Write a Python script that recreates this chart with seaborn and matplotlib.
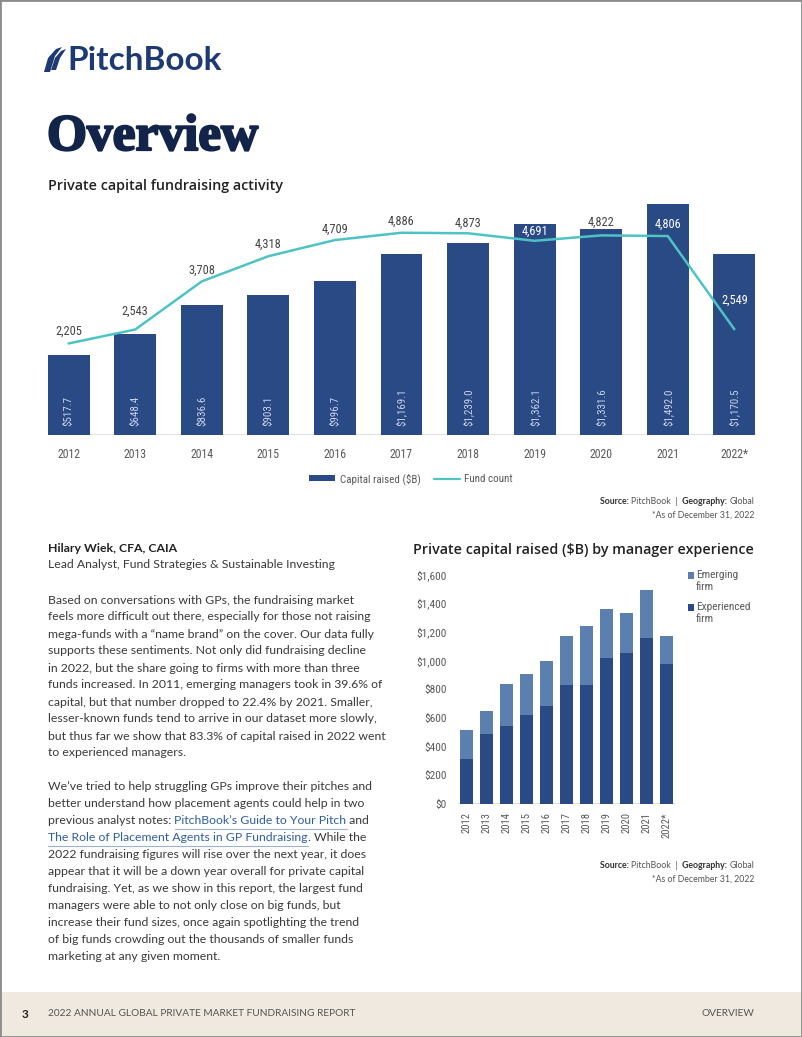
import numpy as np
import pandas as pd
import matplotlib
matplotlib.use("Agg")
import matplotlib.pyplot as plt
import seaborn as sns
from matplotlib import font_manager
from matplotlib.patches import Rectangle, Polygon, Patch
from matplotlib.lines import Line2D
import matplotlib.patheffects as pe

# ---------------- data ----------------
years = ["2012", "2013", "2014", "2015", "2016", "2017", "2018", "2019", "2020", "2021", "2022*"]
capital_raised = [517.7, 648.4, 836.6, 903.1, 996.7, 1169.1, 1239.0, 1362.1, 1331.6, 1492.0, 1170.5]
fund_count = [2205, 2543, 3708, 4318, 4709, 4886, 4873, 4691, 4822, 4806, 2549]
experienced_firm = [315, 487, 541, 620, 683, 828, 830, 1021, 1053, 1160, 975]
emerging_firm = [203, 161, 296, 283, 314, 341, 409, 341, 279, 332, 196]
y2_ticks = [0, 200, 400, 600, 800, 1000, 1200, 1400, 1600]

# style only: vertical lift (px) of each fund-count label above its point
count_label_lift_px = [12, 18, 11, 12, 11, 11, 10, 10, 13, 12, 29]

# ---------------- style ----------------
NAVY = "#2a4a85"
LIGHT = "#5b80b0"
TEAL = "#4ec3c3"
DARK = "#13244a"
TXT = "#3a3a3a"
GREY = "#5a5a5a"

sns.set_theme(style="white")
names = {f.name for f in font_manager.fontManager.ttflist}
COND = "DejaVu Sans"
for cand in ["Liberation Sans Narrow", "Roboto Condensed", "Open Sans Condensed",
             "Noto Sans Condensed", "DejaVu Sans Condensed", "Roboto"]:
    if cand in names:
        COND = cand
        break
BODY = "Lato" if "Lato" in names else "DejaVu Sans"
HEAD = "Open Sans" if "Open Sans" in names else "DejaVu Sans"
plt.rcParams["font.family"] = [COND, "DejaVu Sans"]

W, H = 802, 1037
fig = plt.figure(figsize=(W / 100, H / 100), dpi=100)
fig.patch.set_facecolor("white")


def fx(x):
    return x / W


def fy(y):
    return 1 - y / H


def rect_ax(l, t, r, b):
    return [fx(l), fy(b), (r - l) / W, (b - t) / H]


renderer = fig.canvas.get_renderer()


def text_width(t):
    return t.get_window_extent(renderer=renderer).width


def rich_line(x, y, segments, size, family, ha="left"):
    """segments: list of (text, color, weight, underline)"""
    if ha == "left":
        cx = x
        for s, c, w, u in segments:
            t = fig.text(fx(cx), fy(y), s, fontsize=size, color=c, fontweight=w,
                         family=family, va="center", ha="left")
            wd = text_width(t)
            if u:
                fig.add_artist(Line2D([fx(cx), fx(cx + wd)], [fy(y + 8), fy(y + 8)],
                                      color="#9fb3cf", lw=0.8, transform=fig.transFigure))
            cx += wd
    else:
        cx = x
        for s, c, w, u in reversed(segments):
            t = fig.text(fx(cx), fy(y), s, fontsize=size, color=c, fontweight=w,
                         family=family, va="center", ha="right")
            cx -= text_width(t)


# ---------------- page frame & header ----------------
fig.add_artist(Rectangle((0, 0), 1, 1, transform=fig.transFigure, fill=False,
                         edgecolor="#8c8c8c", lw=2))

logo_polys = [
    [(44, 72), (48, 58), (56, 49), (62, 47), (55, 56), (50, 72)],
    [(51, 70), (55, 58), (61, 51), (66, 49), (60, 58), (56, 70)],
]
for poly in logo_polys:
    fig.add_artist(Polygon([(fx(a), fy(b)) for a, b in poly], closed=True,
                           transform=fig.transFigure, facecolor="#1d3a72", edgecolor="none"))
fig.text(fx(67), fy(61), "PitchBook", fontsize=24, color="#1d3a72", family=BODY,
         fontweight="bold", va="center", ha="left")

ov = fig.text(fx(47), fy(138), "Overview", fontsize=37, color=DARK,
              family=["Liberation Serif", "DejaVu Serif"], fontweight="bold",
              va="center", ha="left")
ov.set_path_effects([pe.withStroke(linewidth=1.6, foreground=DARK)])

fig.text(fx(48), fy(186), "Private capital fundraising activity", fontsize=10.3,
         color="#222222", family=HEAD, fontweight="semibold", va="center", ha="left")

# ---------------- top chart ----------------
ax1 = fig.add_axes(rect_ax(47.7, 200, 755.3, 434.5))
df1 = pd.DataFrame({"year": years, "capital": capital_raised, "count": fund_count})
sns.barplot(data=df1, x="year", y="capital", color=NAVY, saturation=1, width=0.63,
            linewidth=0, ax=ax1)
Y1MAX = 1518
ax1.set_ylim(0, Y1MAX)
ax1.set_xlim(-0.315, 10.315)
for s in ax1.spines.values():
    s.set_visible(False)
ax1.axhline(0, color="#dcdcdc", lw=1.2, zorder=0.5)
ax1.set_yticks([])
ax1.set_xlabel("")
ax1.set_ylabel("")
ax1.tick_params(axis="x", length=0, pad=10, labelsize=8.5, labelcolor=GREY)

for i, v in enumerate(capital_raised):
    ax1.annotate(f"${v:,.1f}", xy=(i, 0), xytext=(0, 6.0), textcoords="offset points",
                 rotation=90, ha="center", va="bottom", color="#c9d1e8", fontsize=7.9)

ax2 = ax1.twinx()
Y2MAX = 5679
sns.lineplot(x=np.arange(len(years)), y=fund_count, ax=ax2, color=TEAL, lw=1.8)
ax2.set_ylim(0, Y2MAX)
ax2.set_xlim(-0.315, 10.315)
ax2.set_yticks([])
ax2.set_ylabel("")
for s in ax2.spines.values():
    s.set_visible(False)

AXH = 234.5
for i, (c, cap, lift) in enumerate(zip(fund_count, capital_raised, count_label_lift_px)):
    lab_px = c * AXH / Y2MAX + lift
    bar_px = cap * AXH / Y1MAX
    col = "white" if lab_px < bar_px else "#444444"
    ax2.annotate(f"{c:,}", xy=(i, c), xytext=(0, lift * 0.72), textcoords="offset points",
                 ha="center", va="center", color=col, fontsize=8.9)

handles = [Patch(facecolor=NAVY, edgecolor="none"), Line2D([0], [0], color=TEAL, lw=1.6)]
fig.legend(handles, ["Capital raised ($B)", "Fund count"], loc="center",
           bbox_to_anchor=(fx(411), fy(479)), ncol=2, frameon=False, fontsize=7.9,
           handlelength=2.4, handleheight=0.45, handletextpad=0.4, columnspacing=1.2,
           labelcolor=GREY)

rich_line(754, 502, [("Source: ", "#333333", "bold", False), ("PitchBook  |  ", "#555555", "normal", False),
                     ("Geography: ", "#333333", "bold", False), ("Global", "#555555", "normal", False)],
          6.3, BODY, ha="right")
rich_line(754, 515, [("*As of December 31, 2022", "#555555", "normal", False)], 6.3, BODY, ha="right")

# ---------------- body text ----------------
BSIZE = 8.8
fig.text(fx(48), fy(548), "Hilary Wiek, CFA, CAIA", fontsize=BSIZE, color="#222222",
         family=BODY, fontweight="bold", va="center")
fig.text(fx(48), fy(565), "Lead Analyst, Fund Strategies & Sustainable Investing", fontsize=BSIZE,
         color=TXT, family=BODY, va="center")

para1 = [
    "Based on conversations with GPs, the fundraising market",
    "feels more difficult out there, especially for those not raising",
    "mega-funds with a \u201cname brand\u201d on the cover. Our data fully",
    "supports these sentiments. Not only did fundraising decline",
    "in 2022, but the share going to firms with more than three",
    "funds increased. In 2011, emerging managers took in 39.6% of",
    "capital, but that number dropped to 22.4% by 2021. Smaller,",
    "lesser-known funds tend to arrive in our dataset more slowly,",
    "but thus far we show that 83.3% of capital raised in 2022 went",
    "to experienced managers.",
]
LINK = "#2f5f9e"
para2 = [
    [("We\u2019ve tried to help struggling GPs improve their pitches and", TXT, "normal", False)],
    [("better understand how placement agents could help in two", TXT, "normal", False)],
    [("previous analyst notes: ", TXT, "normal", False),
     ("PitchBook\u2019s Guide to Your Pitch", LINK, "normal", True), (" and", TXT, "normal", False)],
    [("The Role of Placement Agents in GP Fundraising", LINK, "normal", True),
     (". While the", TXT, "normal", False)],
    [("2022 fundraising figures will rise over the next year, it does", TXT, "normal", False)],
    [("appear that it will be a down year overall for private capital", TXT, "normal", False)],
    [("fundraising. Yet, as we show in this report, the largest fund", TXT, "normal", False)],
    [("managers were able to not only close on big funds, but", TXT, "normal", False)],
    [("increase their fund sizes, once again spotlighting the trend", TXT, "normal", False)],
    [("of big funds crowding out the thousands of smaller funds", TXT, "normal", False)],
    [("marketing at any given moment.", TXT, "normal", False)],
]
for k, line in enumerate(para1):
    fig.text(fx(48), fy(600 + k * 17.0), line, fontsize=BSIZE, color=TXT, family=BODY, va="center")
for k, segs in enumerate(para2):
    rich_line(48, 787 + k * 16.9, segs, BSIZE, BODY)

# ---------------- second chart ----------------
fig.text(fx(413), fy(550), "Private capital raised ($B) by manager experience", fontsize=10.3,
         color="#222222", family=HEAD, fontweight="semibold", va="center", ha="left")

ax3 = fig.add_axes(rect_ax(458, 574.5, 675, 804))
totals = np.array(experienced_firm) + np.array(emerging_firm)
sns.barplot(x=years, y=totals, color=LIGHT, saturation=1, width=0.65, linewidth=0, ax=ax3)
sns.barplot(x=years, y=experienced_firm, color=NAVY, saturation=1, width=0.65, linewidth=0, ax=ax3)
ax3.set_xlim(-0.4, 10.4)
ax3.set_ylim(0, 1600)
ax3.set_yticks(y2_ticks)
ax3.set_yticklabels([f"${t:,}" for t in y2_ticks])
for s in ax3.spines.values():
    s.set_visible(False)
ax3.axhline(0, color="#dcdcdc", lw=1.2, zorder=0.5)
ax3.tick_params(axis="y", length=0, pad=8, labelsize=8.2, labelcolor=GREY)
ax3.tick_params(axis="x", length=0, pad=6, labelsize=7.7, labelcolor=GREY, labelrotation=90)
ax3.set_xlabel("")
ax3.set_ylabel("")

for (yy, col, l1) in [(575, LIGHT, "Emerging"), (607, NAVY, "Experienced")]:
    fig.add_artist(Rectangle((fx(688), fy(yy + 3.5)), 6 / W, 7 / H, transform=fig.transFigure,
                             facecolor=col, edgecolor="none"))
    fig.text(fx(696), fy(yy), l1, fontsize=8.2, color=GREY, va="center", ha="left")
    fig.text(fx(696), fy(yy + 12), "firm", fontsize=8.2, color=GREY, va="center", ha="left")

rich_line(754, 866, [("Source: ", "#333333", "bold", False), ("PitchBook  |  ", "#555555", "normal", False),
                     ("Geography: ", "#333333", "bold", False), ("Global", "#555555", "normal", False)],
          6.3, BODY, ha="right")
rich_line(754, 879, [("*As of December 31, 2022", "#555555", "normal", False)], 6.3, BODY, ha="right")

# ---------------- footer ----------------
fig.add_artist(Rectangle((0, 0), 1, (H - 992) / H, transform=fig.transFigure,
                         facecolor="#efe9df", edgecolor="none", zorder=-1))
fig.text(fx(22), fy(1014), "3", fontsize=8.5, color="#222222", fontweight="bold",
         family=BODY, va="center")
fig.text(fx(48), fy(1014), "2022 ANNUAL GLOBAL PRIVATE MARKET FUNDRAISING REPORT", fontsize=7.3,
         color="#555555", family=BODY, va="center")
fig.text(fx(754), fy(1014), "OVERVIEW", fontsize=7.3, color="#555555", family=BODY,
         va="center", ha="right")

fig.savefig("out.png", dpi=100)
